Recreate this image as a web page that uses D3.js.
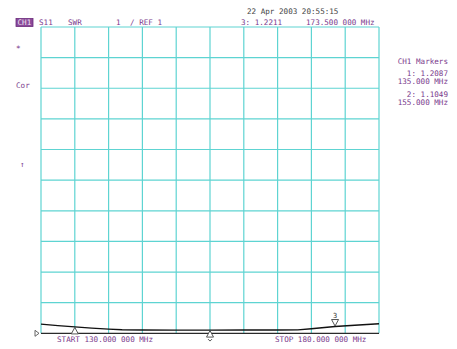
<!DOCTYPE html>
<html>
<head>
<meta charset="utf-8">
<script src="https://cdn.jsdelivr.net/npm/d3@7"></script>
<style>
  html, body { margin: 0; padding: 0; background: #fff; }
  svg { display: block; }
  text { font-family: "DejaVu Sans Mono", "Liberation Mono", monospace; font-size: 7.6px; fill: #7a3a8c; }
</style>
</head>
<body>
<svg id="chart" width="457" height="349"></svg>
<script>
// S11 SWR sweep, 130–180 MHz, 1 unit/div, reference 1 at bottom graticule line
const freqMHz = [130, 132.5, 135, 137.5, 140, 142, 145, 150, 155, 160, 165, 168, 170, 173.5, 177, 180];
const swr     = [1.30, 1.25, 1.2087, 1.17, 1.135, 1.115, 1.108, 1.104, 1.1049, 1.106, 1.108, 1.112, 1.15, 1.2211, 1.27, 1.31];

const freqTicks = d3.range(130, 180.01, 5);   // 10 horizontal divisions
const swrTicks  = d3.range(1, 11.01, 1);      // 10 vertical divisions

const markerIds   = ["1", "2", "3"];
const markerFreqs = [135, 155, 173.5];
const markerSwr   = [1.2087, 1.1049, 1.2211];

const svg = d3.select("#chart");
const x = d3.scaleLinear().domain([130, 180]).range([41, 379]);
const y = d3.scaleLinear().domain([1, 11]).range([333.3, 27]);

const grid = "#5ed4d2";

// graticule
svg.append("g").selectAll("line.v").data(freqTicks).join("line")
  .attr("x1", d => x(d)).attr("x2", d => x(d))
  .attr("y1", y(11)).attr("y2", y(1))
  .attr("stroke", grid).attr("stroke-width", 1.2);
svg.append("g").selectAll("line.h").data(swrTicks.slice(1)).join("line")
  .attr("x1", x(130)).attr("x2", x(180))
  .attr("y1", d => y(d)).attr("y2", d => y(d))
  .attr("stroke", grid).attr("stroke-width", 1.2);

// reference line (SWR 1) and its indicator
svg.append("line")
  .attr("x1", x(130)).attr("x2", x(180)).attr("y1", y(1)).attr("y2", y(1))
  .attr("stroke", "#2a2a2a").attr("stroke-width", 1.2);
svg.append("path")
  .attr("d", `M${x(130) - 6},${y(1) - 3} L${x(130) - 2},${y(1)} L${x(130) - 6},${y(1) + 3} Z`)
  .attr("fill", "none").attr("stroke", "#555").attr("stroke-width", 0.9);

// trace
svg.append("path")
  .datum(freqMHz.map((f, i) => [f, swr[i]]))
  .attr("d", d3.line().x(d => x(d[0])).y(d => y(d[1])))
  .attr("fill", "none").attr("stroke", "#111").attr("stroke-width", 1.4);

// markers: 1 and 2 below the trace pointing up, 3 (active) above pointing down
markerIds.forEach((id, i) => {
  const mx = x(markerFreqs[i]), my = y(markerSwr[i]);
  if (id === "3") {
    svg.append("path")
      .attr("d", `M${mx - 3.5},${my - 7} L${mx + 3.5},${my - 7} L${mx},${my - 0.5} Z`)
      .attr("fill", "#fff").attr("stroke", "#444").attr("stroke-width", 0.9);
    svg.append("text").attr("x", mx).attr("y", my - 9).attr("text-anchor", "middle")
      .style("fill", "#333").style("font-size", "7px").text(id);
  } else {
    svg.append("path")
      .attr("d", `M${mx},${my + 0.5} L${mx + 3.5},${my + 7} L${mx - 3.5},${my + 7} Z`)
      .attr("fill", "#fff").attr("stroke", "#444").attr("stroke-width", 0.9);
    if (id === "2") {
      svg.append("path")
        .attr("d", `M${mx - 2},${my + 9} L${mx},${my + 11} L${mx + 2},${my + 9}`)
        .attr("fill", "none").attr("stroke", "#444").attr("stroke-width", 0.9);
    }
  }
});

// header
svg.append("rect").attr("x", 16).attr("y", 18.5).attr("width", 17).attr("height", 8)
  .attr("fill", "#8a4a9a").attr("stroke", "#6a2a7a").attr("stroke-width", 0.8);
svg.append("text").attr("x", 17.5).attr("y", 25.2).style("fill", "#f0e4f2").text("CH1");
svg.append("text").attr("x", 39).attr("y", 25.2).text("S11");
svg.append("text").attr("x", 68).attr("y", 25.2).text("SWR");
svg.append("text").attr("x", 116).attr("y", 25.2).text("1");
svg.append("text").attr("x", 130).attr("y", 25.2).text("/ REF 1");
svg.append("text").attr("x", 247).attr("y", 13.5).style("fill", "#444").text("22 Apr 2003  20:55:15");
svg.append("text").attr("x", 241).attr("y", 25.2).text(`3: ${markerSwr[2].toFixed(4)}`);
svg.append("text").attr("x", 306).attr("y", 25.2).text("173.500 000 MHz");

// left-hand annotations
svg.append("text").attr("x", 16).attr("y", 51).text("*");
svg.append("text").attr("x", 16).attr("y", 88).text("Cor");
svg.append("text").attr("x", 20).attr("y", 167).text("\u2191");

// marker table
svg.append("text").attr("x", 448).attr("y", 64).attr("text-anchor", "end").text("CH1 Markers");
svg.append("text").attr("x", 448).attr("y", 76).attr("text-anchor", "end").text(`1: ${markerSwr[0].toFixed(4)}`);
svg.append("text").attr("x", 448).attr("y", 84).attr("text-anchor", "end").text("135.000 MHz");
svg.append("text").attr("x", 448).attr("y", 97).attr("text-anchor", "end").text(`2: ${markerSwr[1].toFixed(4)}`);
svg.append("text").attr("x", 448).attr("y", 105).attr("text-anchor", "end").text("155.000 MHz");

// sweep limits
svg.append("text").attr("x", 57).attr("y", 342).text("START 130.000 000 MHz");
svg.append("text").attr("x", 275).attr("y", 342).text("STOP 180.000 000 MHz");
</script>
</body>
</html>
